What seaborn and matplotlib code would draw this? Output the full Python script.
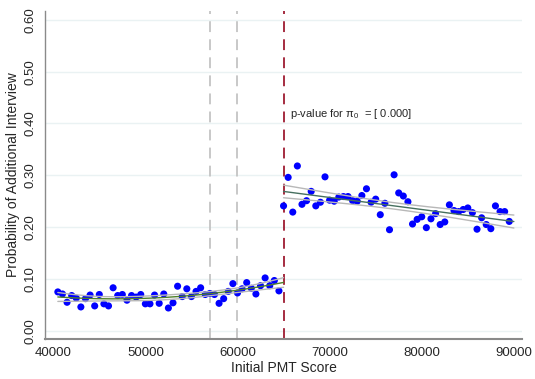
import numpy as np
import pandas as pd
import seaborn as sns
import matplotlib.pyplot as plt

# Binned scores and probability of an additional interview
left_score = [40500, 41000, 41500, 42000, 42500, 43000, 43500, 44000, 44500, 45000,
              45500, 46000, 46500, 47000, 47500, 48000, 48500, 49000, 49500, 50000,
              50500, 51000, 51500, 52000, 52500, 53000, 53500, 54000, 54500, 55000,
              55500, 56000, 56500, 57000, 57500, 58000, 58500, 59000, 59500, 60000,
              60500, 61000, 61500, 62000, 62500, 63000, 63500, 64000, 64500]
left_prob = [0.075, 0.071, 0.055, 0.068, 0.063, 0.046, 0.062, 0.069, 0.048, 0.070,
             0.052, 0.048, 0.083, 0.068, 0.070, 0.059, 0.068, 0.065, 0.070, 0.052,
             0.052, 0.069, 0.053, 0.071, 0.044, 0.054, 0.086, 0.066, 0.081, 0.066,
             0.076, 0.083, 0.070, 0.072, 0.070, 0.053, 0.062, 0.076, 0.091, 0.073,
             0.081, 0.093, 0.082, 0.071, 0.087, 0.102, 0.087, 0.097, 0.077]

right_score = [65000, 65500, 66000, 66500, 67000, 67500, 68000, 68500, 69000, 69500,
               70000, 70500, 71000, 71500, 72000, 72500, 73000, 73500, 74000, 74500,
               75000, 75500, 76000, 76500, 77000, 77500, 78000, 78500, 79000, 79500,
               80000, 80500, 81000, 81500, 82000, 82500, 83000, 83500, 84000, 84500,
               85000, 85500, 86000, 86500, 87000, 87500, 88000, 88500, 89000, 89500]
right_prob = [0.241, 0.296, 0.229, 0.318, 0.244, 0.251, 0.269, 0.241, 0.248, 0.297,
              0.252, 0.250, 0.258, 0.259, 0.259, 0.251, 0.250, 0.261, 0.274, 0.248,
              0.254, 0.224, 0.246, 0.195, 0.301, 0.266, 0.260, 0.249, 0.206, 0.215,
              0.220, 0.199, 0.216, 0.226, 0.205, 0.210, 0.243, 0.232, 0.230, 0.234,
              0.237, 0.228, 0.196, 0.218, 0.205, 0.197, 0.241, 0.230, 0.230, 0.211]

cutoffs_grey = [57000, 60000]
cutoff_red = 65000
y_ticks = [0.0, 0.1, 0.2, 0.3, 0.4, 0.5, 0.6]
x_ticks = [40000, 50000, 60000, 70000, 80000, 90000]

sns.set_style("white")
plt.rcParams['font.family'] = ['Liberation Sans', 'DejaVu Sans']
plt.rcParams['mathtext.fontset'] = 'custom'
plt.rcParams['mathtext.rm'] = 'Liberation Sans'
plt.rcParams['mathtext.it'] = 'Liberation Sans'


def fit_with_ci(x, y, order, x_lo, x_hi):
    # polynomial fit with 95% CI of the mean prediction
    x = np.asarray(x, float)
    y = np.asarray(y, float)
    xs = (x - x.mean()) / 10000
    X = np.vander(xs, order + 1)
    beta, *_ = np.linalg.lstsq(X, y, rcond=None)
    resid = y - X @ beta
    s2 = resid @ resid / (len(y) - order - 1)
    cov = s2 * np.linalg.inv(X.T @ X)
    grid = np.linspace(x_lo, x_hi, 200)
    G = np.vander((grid - x.mean()) / 10000, order + 1)
    pred = G @ beta
    se = np.sqrt(np.einsum('ij,jk,ik->i', G, cov, G))
    return pd.DataFrame({'x': grid, 'fit': pred,
                         'lo': pred - 1.96 * se, 'hi': pred + 1.96 * se})


left_fit = fit_with_ci(left_score, left_prob, 2, 40500, 65000)
right_fit = fit_with_ci(right_score, right_prob, 1, 65000, 90000)

fig = plt.figure(figsize=(5.35, 3.79), dpi=100)
ax = fig.add_axes([0.084, 0.106, 0.892, 0.865])

for yt in y_ticks:
    ax.axhline(yt, color='#eaf2f3', lw=1, zorder=0)

for c in cutoffs_grey:
    ax.axvline(c, color='#c4c4c4', lw=1.3, ls=(0, (6, 4)), zorder=1)
ax.axvline(cutoff_red, color='#9e1b32', lw=1.3, ls=(0, (6, 4)), zorder=1)

pts = pd.DataFrame({'score': left_score + right_score,
                    'prob': left_prob + right_prob})
sns.scatterplot(data=pts, x='score', y='prob', color='#0000ff', s=26,
                edgecolor='none', ax=ax, zorder=3)

for fit, col in [(left_fit, '#4f7f2a'), (right_fit, '#46705f')]:
    sns.lineplot(data=fit, x='x', y='hi', color='#b8b8b8', lw=1, ax=ax, zorder=4)
    sns.lineplot(data=fit, x='x', y='lo', color='#b8b8b8', lw=1, ax=ax, zorder=4)
    sns.lineplot(data=fit, x='x', y='fit', color=col, lw=1, ax=ax, zorder=5)

ax.text(65750, 0.419, r"p-value for $\pi_0$  = [ 0.000]", fontsize=8,
        va='center', ha='left')

ax.set_xlim(39100, 90900)
ax.set_ylim(-0.0155, 0.617)
ax.set_xticks(x_ticks)
ax.set_yticks(y_ticks)
ax.set_yticklabels([f"{v:.2f}" for v in y_ticks], rotation=90, va='center')
ax.tick_params(axis='both', direction='out', length=4, width=1,
               color='#888888', labelsize=9.5, pad=2)
ax.set_xlabel("Initial PMT Score", fontsize=10, labelpad=1)
ax.set_ylabel("Probability of Additional Interview", fontsize=10, labelpad=3)

for side in ['top', 'right']:
    ax.spines[side].set_visible(False)
ax.spines['left'].set_color('#8a8a8a')
ax.spines['bottom'].set_color('#8a8a8a')
ax.spines['left'].set_linewidth(1)
ax.spines['bottom'].set_linewidth(1.5)

fig.savefig("out.png", dpi=100)
